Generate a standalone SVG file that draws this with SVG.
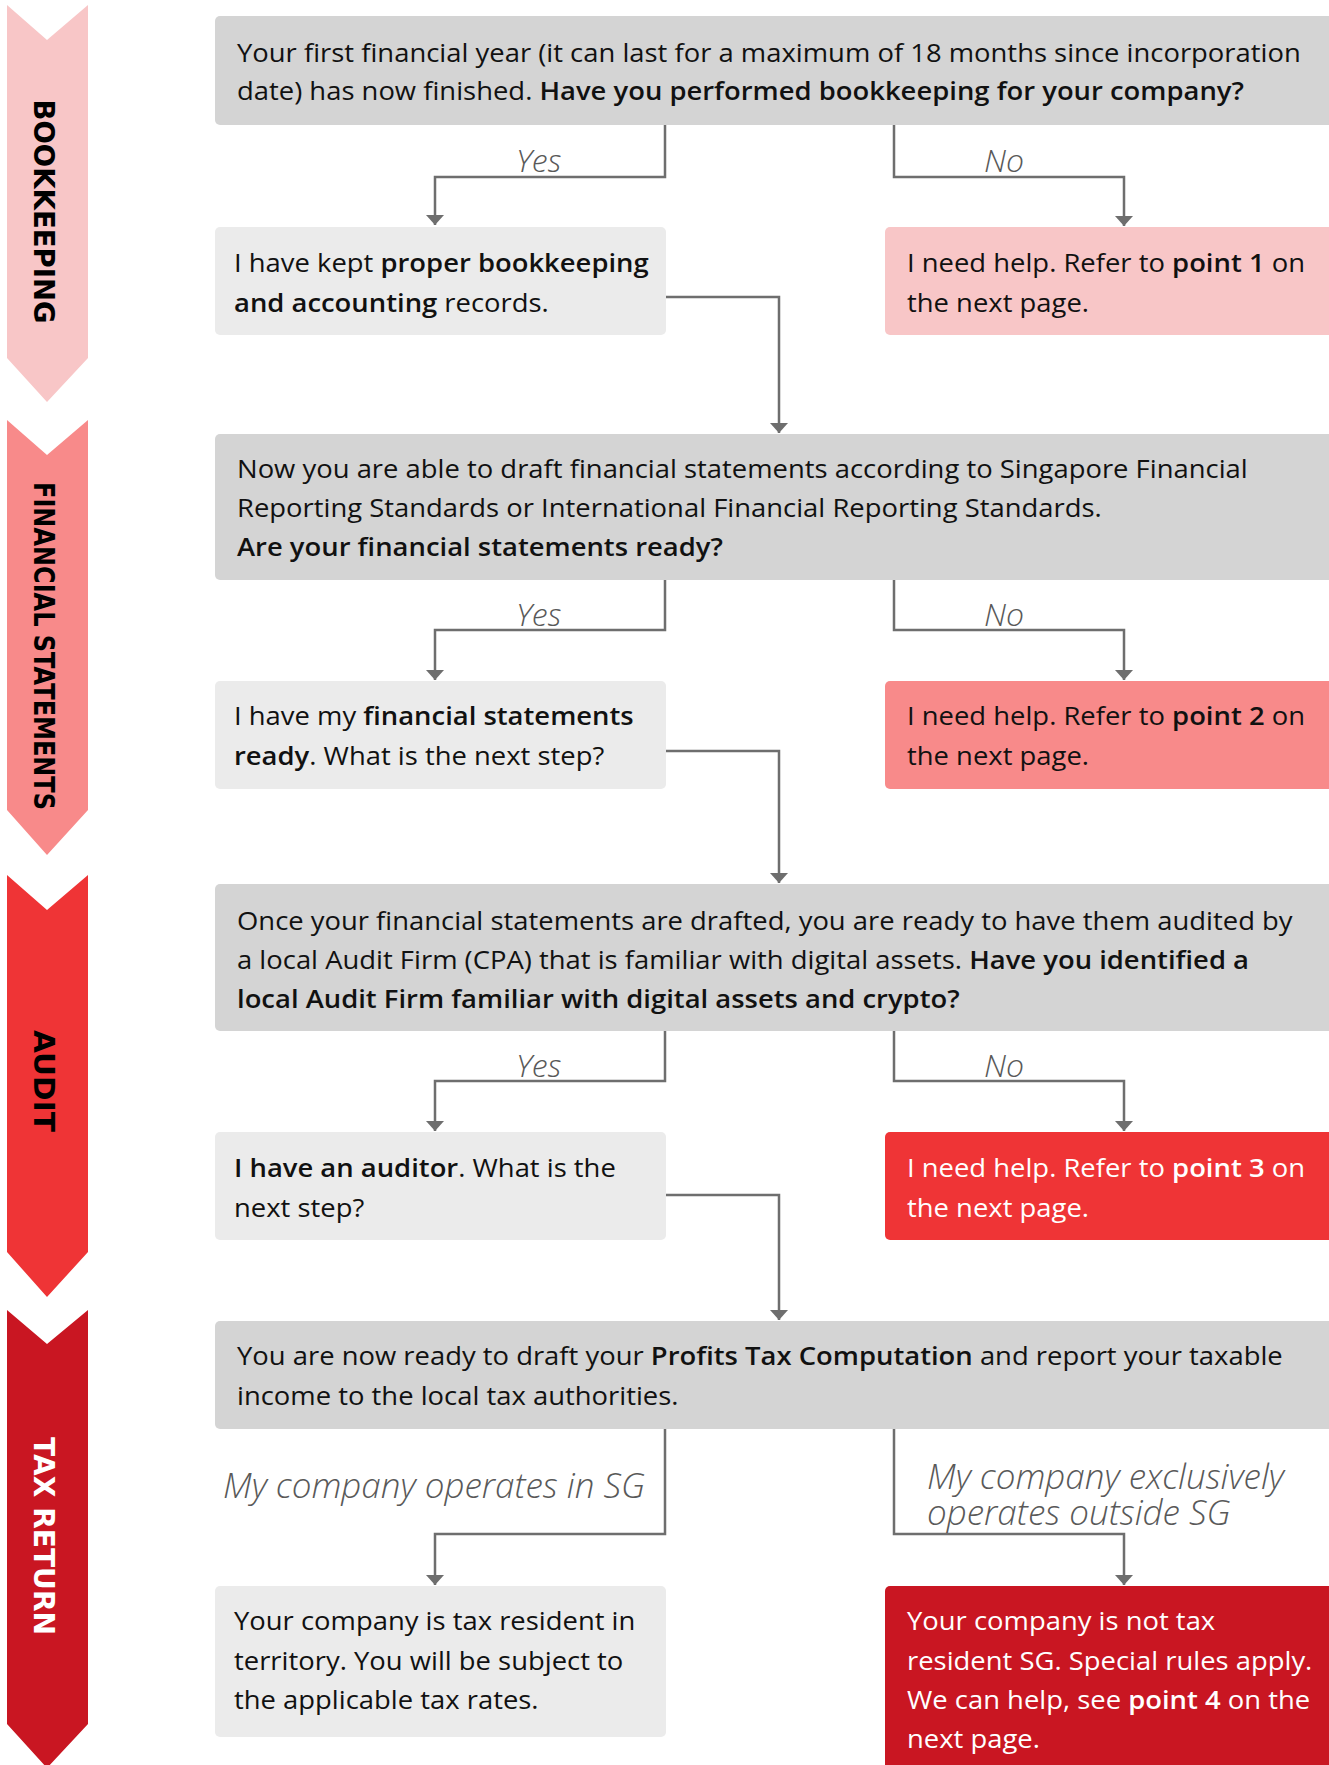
<svg xmlns="http://www.w3.org/2000/svg" width="1329" height="1765" viewBox="0 0 1329 1765">
<defs>
<style>
.q{fill:#d4d4d4}
.a{fill:#ebebeb}
.t{font-family:"Open Sans","Noto Sans","Liberation Sans",sans-serif;font-size:25.5px;fill:#111}
.w{fill:#fff}
.b{font-weight:600}
.lbl{font-family:"Open Sans","Noto Sans","Liberation Sans",sans-serif;font-style:italic;font-weight:300;font-size:32px;fill:#595959}
.lbl2{font-size:35px}
.ban{font-family:"DejaVu Sans","Liberation Sans",sans-serif;font-weight:bold;font-size:28px}
.con{fill:none;stroke:#6e6e6e;stroke-width:2.5;marker-end:url(#ah)}
</style>
<marker id="ah" viewBox="0 0 10 18" refX="10" refY="9" markerWidth="10" markerHeight="18" markerUnits="userSpaceOnUse" orient="auto">
<path d="M0,0 L10,9 L0,18 z" fill="#6e6e6e"/>
</marker>
</defs>
<rect width="1329" height="1765" fill="#fff"/>

<g id="banner-bookkeeping">
<polygon points="7,5 47,40 88,5 88,358 47,402 7,358" fill="#f8c6c7"/>
<text class="ban" fill="#000" transform="translate(34,211.5) rotate(90)" text-anchor="middle" textLength="224" lengthAdjust="spacingAndGlyphs">BOOKKEEPING</text>
</g>
<g id="banner-fs">
<polygon points="7,420 47,455 88,420 88,810 47,855 7,810" fill="#f88a8a"/>
<text class="ban" fill="#000" transform="translate(34,646) rotate(90)" text-anchor="middle" textLength="328" lengthAdjust="spacingAndGlyphs">FINANCIAL STATEMENTS</text>
</g>
<g id="banner-audit">
<polygon points="7,875 47,910 88,875 88,1252 47,1297 7,1252" fill="#ef3436"/>
<text class="ban" fill="#000" transform="translate(34,1081) rotate(90)" text-anchor="middle" textLength="102" lengthAdjust="spacingAndGlyphs">AUDIT</text>
</g>
<g id="banner-tax">
<polygon points="7,1310 47,1344 88,1310 88,1724 47,1768 7,1724" fill="#c91622"/>
<text class="ban" fill="#fff" transform="translate(34,1536) rotate(90)" text-anchor="middle" textLength="198" lengthAdjust="spacingAndGlyphs">TAX RETURN</text>
</g>

<g id="connectors">
<path class="con" d="M665,125 V177 H435 V225"/>
<path class="con" d="M894,125 V177 H1124 V226"/>
<path class="con" d="M666,297 H779 V433"/>
<path class="con" d="M665,580 V630 H435 V680"/>
<path class="con" d="M894,580 V630 H1124 V680"/>
<path class="con" d="M666,751 H779 V883"/>
<path class="con" d="M665,1031 V1081 H435 V1131"/>
<path class="con" d="M894,1031 V1081 H1124 V1131"/>
<path class="con" d="M666,1195 H779 V1320"/>
<path class="con" d="M665,1429 V1534 H435 V1585"/>
<path class="con" d="M894,1429 V1534 H1124 V1585"/>
<text class="lbl" x="516" y="172">Yes</text>
<text class="lbl" x="984" y="172">No</text>
<text class="lbl" x="516" y="626">Yes</text>
<text class="lbl" x="984" y="626">No</text>
<text class="lbl" x="516" y="1077">Yes</text>
<text class="lbl" x="984" y="1077">No</text>
<text class="lbl lbl2" x="223" y="1498">My company operates in SG</text>
<text class="lbl lbl2" x="927" y="1489">My company exclusively</text>
<text class="lbl lbl2" x="927" y="1525">operates outside SG</text>
</g>

<g id="q1">
<rect class="q" x="215" y="16" width="1124" height="109" rx="5"/>
<g transform="translate(237 0) scale(1.075 1)">
<text class="t" x="0" y="62">Your first financial year (it can last for a maximum of 18 months since incorporation</text>
<text class="t" x="0" y="100">date) has now finished. <tspan class="b">Have you performed bookkeeping for your company?</tspan></text>
</g>
</g>
<g id="a1">
<rect class="a" x="215" y="227" width="451" height="108" rx="5"/>
<g transform="translate(234 0) scale(1.075 1)">
<text class="t" x="0" y="272">I have kept <tspan class="b">proper bookkeeping</tspan></text>
<text class="t" x="0" y="312"><tspan class="b">and accounting</tspan> records.</text>
</g>
</g>
<g id="p1">
<rect x="885" y="227" width="454" height="108" rx="5" fill="#f8c6c7"/>
<g transform="translate(907 0) scale(1.075 1)">
<text class="t" x="0" y="272">I need help. Refer to <tspan class="b">point 1</tspan> on</text>
<text class="t" x="0" y="312">the next page.</text>
</g>
</g>

<g id="q2">
<rect class="q" x="215" y="434" width="1124" height="146" rx="5"/>
<g transform="translate(237 0) scale(1.075 1)">
<text class="t" x="0" y="478">Now you are able to draft financial statements according to Singapore Financial</text>
<text class="t" x="0" y="517">Reporting Standards or International Financial Reporting Standards.</text>
<text class="t b" x="0" y="556">Are your financial statements ready?</text>
</g>
</g>
<g id="a2">
<rect class="a" x="215" y="681" width="451" height="108" rx="5"/>
<g transform="translate(234 0) scale(1.075 1)">
<text class="t" x="0" y="725">I have my <tspan class="b">financial statements</tspan></text>
<text class="t" x="0" y="765"><tspan class="b">ready</tspan>. What is the next step?</text>
</g>
</g>
<g id="p2">
<rect x="885" y="681" width="454" height="108" rx="5" fill="#f88a8a"/>
<g transform="translate(907 0) scale(1.075 1)">
<text class="t" x="0" y="725">I need help. Refer to <tspan class="b">point 2</tspan> on</text>
<text class="t" x="0" y="765">the next page.</text>
</g>
</g>

<g id="q3">
<rect class="q" x="215" y="884" width="1124" height="147" rx="5"/>
<g transform="translate(237 0) scale(1.075 1)">
<text class="t" x="0" y="930">Once your financial statements are drafted, you are ready to have them audited by</text>
<text class="t" x="0" y="969">a local Audit Firm (CPA) that is familiar with digital assets. <tspan class="b">Have you identified a</tspan></text>
<text class="t b" x="0" y="1008">local Audit Firm familiar with digital assets and crypto?</text>
</g>
</g>
<g id="a3">
<rect class="a" x="215" y="1132" width="451" height="108" rx="5"/>
<g transform="translate(234 0) scale(1.075 1)">
<text class="t" x="0" y="1177"><tspan class="b">I have an auditor</tspan>. What is the</text>
<text class="t" x="0" y="1217">next step?</text>
</g>
</g>
<g id="p3">
<rect x="885" y="1132" width="454" height="108" rx="5" fill="#ef3436"/>
<g transform="translate(907 0) scale(1.075 1)">
<text class="t w" x="0" y="1177">I need help. Refer to <tspan class="b">point 3</tspan> on</text>
<text class="t w" x="0" y="1217">the next page.</text>
</g>
</g>

<g id="q4">
<rect class="q" x="215" y="1321" width="1124" height="108" rx="5"/>
<g transform="translate(237 0) scale(1.075 1)">
<text class="t" x="0" y="1365">You are now ready to draft your <tspan class="b">Profits Tax Computation</tspan> and report your taxable</text>
<text class="t" x="0" y="1405">income to the local tax authorities.</text>
</g>
</g>
<g id="a4">
<rect class="a" x="215" y="1586" width="451" height="151" rx="5"/>
<g transform="translate(234 0) scale(1.075 1)">
<text class="t" x="0" y="1630">Your company is tax resident in</text>
<text class="t" x="0" y="1670">territory. You will be subject to</text>
<text class="t" x="0" y="1709">the applicable tax rates.</text>
</g>
</g>
<g id="p4">
<rect x="885" y="1586" width="454" height="200" rx="5" fill="#c91622"/>
<g transform="translate(907 0) scale(1.075 1)">
<text class="t w" x="0" y="1630">Your company is not tax</text>
<text class="t w" x="0" y="1670">resident SG. Special rules apply.</text>
<text class="t w" x="0" y="1709">We can help, see <tspan class="b">point 4</tspan> on the</text>
<text class="t w" x="0" y="1748">next page.</text>
</g>
</g>
</svg>
